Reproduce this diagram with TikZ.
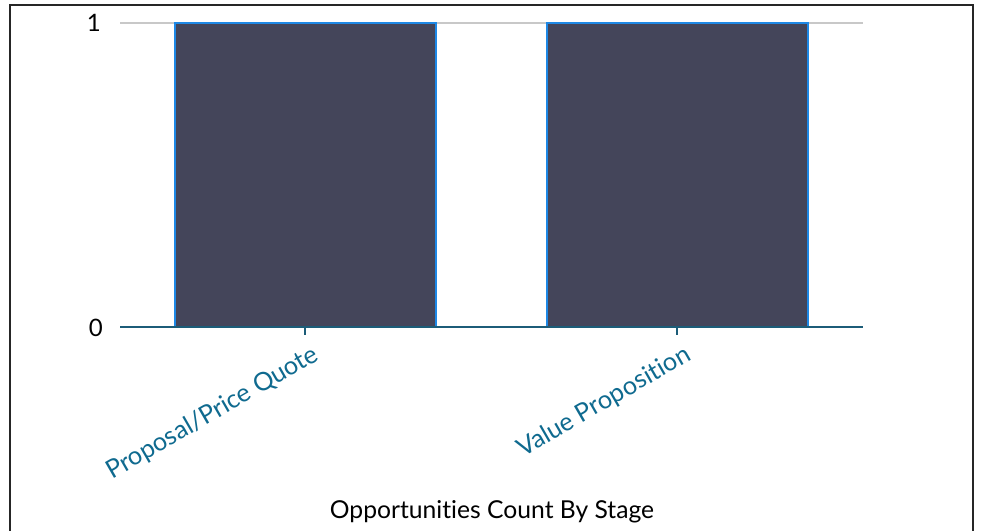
\documentclass[tikz,border=0pt]{standalone}
\usepackage{fontspec}
\setmainfont{Lato}[Ligatures=NoCommon]
\definecolor{barfill}{HTML}{44455A}
\definecolor{baredge}{HTML}{1E88E5}
\definecolor{axisline}{HTML}{1C5C78}
\definecolor{gridline}{HTML}{C8C8C8}
\definecolor{catlabel}{HTML}{0F6A8F}

\begin{document}
\begin{tikzpicture}[x=0.75pt,y=-0.75pt]
\tikzstyle{bar}=[fill=barfill, draw=baredge, line width=1.3pt]
\tikzstyle{catname}=[anchor=north east, rotate=30, inner sep=0pt, text=catlabel, font=\fontsize{19}{19}\selectfont]
\tikzstyle{valname}=[anchor=east, inner sep=0pt, font=\fontsize{18}{18}\selectfont]
\useasboundingbox (0,0) rectangle (981,531);
% frame, cut at the bottom
\draw [line width=1pt, black!85] (10,531) -- (10,5) -- (973,5) -- (973,531);
% grid and bars
\draw [gridline, line width=1.5pt] (120,23) -- (863,23);
\draw [bar] (175,327) rectangle (436,23);
\draw [bar] (547,327) rectangle (808,23);
\draw [axisline, line width=1.5pt] (120,327) -- (863,327);
\coordinate (tickA) at (305,327);
\coordinate (tickB) at (677,327);
\draw [axisline, line width=1.3pt] (tickA) -- ++(0,8);
\draw [axisline, line width=1.3pt] (tickB) -- ++(0,8);
% value labels
\node [valname] (one) at (101,23) {1};
\node [valname] (zero) at (103,328) {0};
% category labels
\node [catname] (propq) at (311,343) {Proposal/Price Quote};
\node [catname] (valprop) at (683,343) {Value Proposition};
\node [font=\fontsize{18.5}{18.5}\selectfont] (title) at (492,512) {Opportunities Count By Stage};
\end{tikzpicture}
\end{document}
